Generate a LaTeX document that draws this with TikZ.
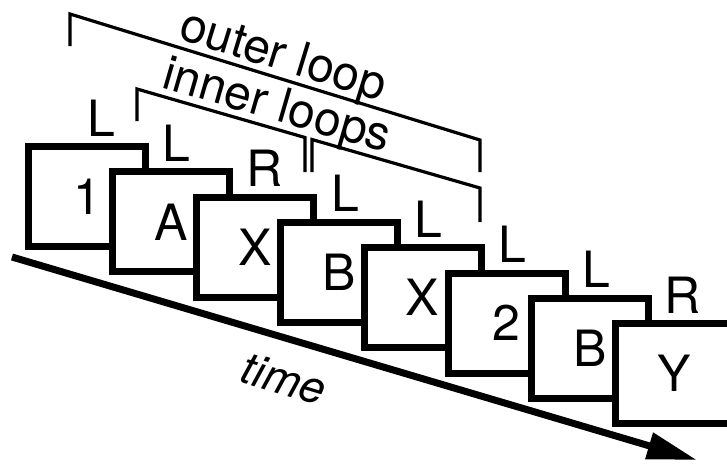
\documentclass[tikz,border=0pt]{standalone}
\usepackage{fontspec}
\setmainfont{TeX Gyre Heros}
\usetikzlibrary{arrows.meta}
\begin{document}
\begin{tikzpicture}[x=1pt,y=-1pt,
  card/.style={draw, fill=white, line width=7pt, minimum width=117pt, minimum height=100pt,
    inner sep=0pt, outer sep=0pt, font=\fontsize{50}{60}\selectfont},
  side/.style={anchor=base, inner sep=0pt, font=\fontsize{50}{60}\selectfont},
  bracket/.style={line width=3.2pt},
  looplabel/.style={anchor=base, inner sep=0pt, font=\fontsize{48}{57}\selectfont},
  timearrow/.style={line width=7pt, -{Triangle[length=50pt,width=26pt]}},
]
\useasboundingbox (0,0) rectangle (727,464);
\clip (0,0) rectangle (727,464);

% time axis
\coordinate (t0) at (12,257);
\coordinate (t1) at (697,460);
\draw[timearrow] (t0) -- (t1);
\node[font=\itshape\fontsize{45}{54}\selectfont, rotate=-16.5, inner sep=0pt] (time) at (284,379) {time};

% outer loop bracket
\coordinate (o1) at (70,46);
\coordinate (o2) at (70,14);
\coordinate (o3) at (480,140);
\coordinate (o4) at (480,172);
\draw[bracket] (o1) -- (o2) -- (o3) -- (o4);
\node[looplabel, rotate=-17.1] (outer) at (279,70) {outer loop};

% inner loop brackets
\coordinate (a1) at (137,121);
\coordinate (a2) at (137,89);
\coordinate (a3) at (305,137.5);
\coordinate (a4) at (305,172);
\draw[bracket] (a1) -- (a2) -- (a3) -- (a4);
\coordinate (b1) at (312,172);
\coordinate (b2) at (312,139.5);
\coordinate (b3) at (480,188);
\coordinate (b4) at (480,222);
\draw[bracket] (b1) -- (b2) -- (b3) -- (b4);
\node[looplabel, rotate=-16.1] (inner) at (273,120) {inner loops};

% cards
\node[card] (c1) at (87,196.5) {1};
\node[side] (s1) at (101,136) {L};
\node[card] (c2) at (170.9,221.8) {A};
\node[side] (s2) at (176.5,161) {L};
\node[card] (c3) at (254.8,247.1) {X};
\node[side] (s3) at (265,186.6) {R};
\node[card] (c4) at (338.7,272.4) {B};
\node[side] (s4) at (345,211.9) {L};
\node[card] (c5) at (422.6,297.7) {X};
\node[side] (s5) at (428.5,237.2) {L};
\node[card] (c6) at (506.5,323) {2};
\node[side] (s6) at (512.4,262.5) {L};
\node[card] (c7) at (590.4,348.3) {B};
\node[side] (s7) at (596.3,287.8) {L};
\node[card] (c8) at (674.3,373.6) {Y};
\node[side] (s8) at (683,313.1) {R};
\end{tikzpicture}
\end{document}
